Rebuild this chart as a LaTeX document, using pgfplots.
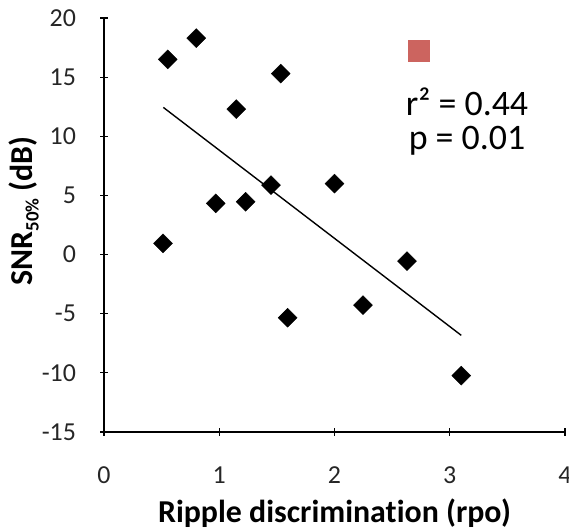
\documentclass[border=0pt]{standalone}
\usepackage{pgfplots}
\pgfplotsset{compat=1.18}
\usepackage{fontspec}
\setmainfont{Carlito}[Ligatures=NoCommon]
\definecolor{sqred}{RGB}{204,100,95}
\newcommand{\tlfont}{\fontsize{26}{26}\selectfont}
\begin{document}
\begin{tikzpicture}
\begin{axis}[
  scale only axis,
  width=461bp, height=414bp,
  at={(104bp,99bp)}, anchor=south west,
  xmin=0, xmax=4, ymin=-15, ymax=20,
  axis x line=bottom, axis y line=left,
  axis line style={-, line width=2.6bp, black},
  xtick={0,1,2,3,4}, ytick={-15,-10,-5,0,5,10,15,20},
  xticklabels={{\tlfont 0},{\tlfont 1},{\tlfont 2},{\tlfont 3},{\tlfont 4}},
  yticklabels={{\tlfont -15},{\tlfont -10},{\tlfont -5},{\tlfont 0},{\tlfont 5},{\tlfont 10},{\tlfont 15},{\tlfont 20}},
  major tick length=7bp,
  tick style={line width=1.2bp, black},
  xticklabel style={text=black!85, yshift=-28bp},
  yticklabel style={text=black!85, xshift=-21bp},
  xlabel={\textbf{Ripple discrimination (rpo)}},
  ylabel={\textbf{SNR{\fontsize{19}{19}\selectfont\raisebox{-0.3em}{50\%}} (dB)}},
  xlabel style={font=\fontsize{32}{32}\selectfont, at={(axis description cs:0.5,-0.196)}, anchor=center},
  ylabel style={font=\fontsize{32}{32}\selectfont, at={(axis description cs:-0.1735,0.534)}, anchor=center},
  clip=false,
]
\addplot[only marks, mark=square*, mark size=6.7bp, mark options={rotate=45, fill=black, draw=black}]
coordinates {
(0.553,16.5) (0.80,18.3) (1.533,15.3) (1.148,12.3) (1.449,5.87)
(0.969,4.33) (1.229,4.46) (0.512,0.95) (2.00,6.0) (2.629,-0.55)
(1.594,-5.34) (2.247,-4.27) (3.10,-10.24)
};
\addplot[black, line width=1.4bp, mark=none] coordinates {(0.515,12.44) (3.10,-6.83)};
\addplot[only marks, mark=square*, mark size=10.5bp, mark options={fill=sqred, draw=sqred}] coordinates {(2.733,17.2)};
\node[anchor=base, font=\fontsize{36}{36}\selectfont] at (axis cs:3.15,11.79) {r² = 0.44};
\node[anchor=base, font=\fontsize{36}{36}\selectfont] at (axis cs:3.15,8.92) {p = 0.01};
\end{axis}
\pgfresetboundingbox
\useasboundingbox (0,0) rectangle (569bp,531bp);
\end{tikzpicture}
\end{document}
